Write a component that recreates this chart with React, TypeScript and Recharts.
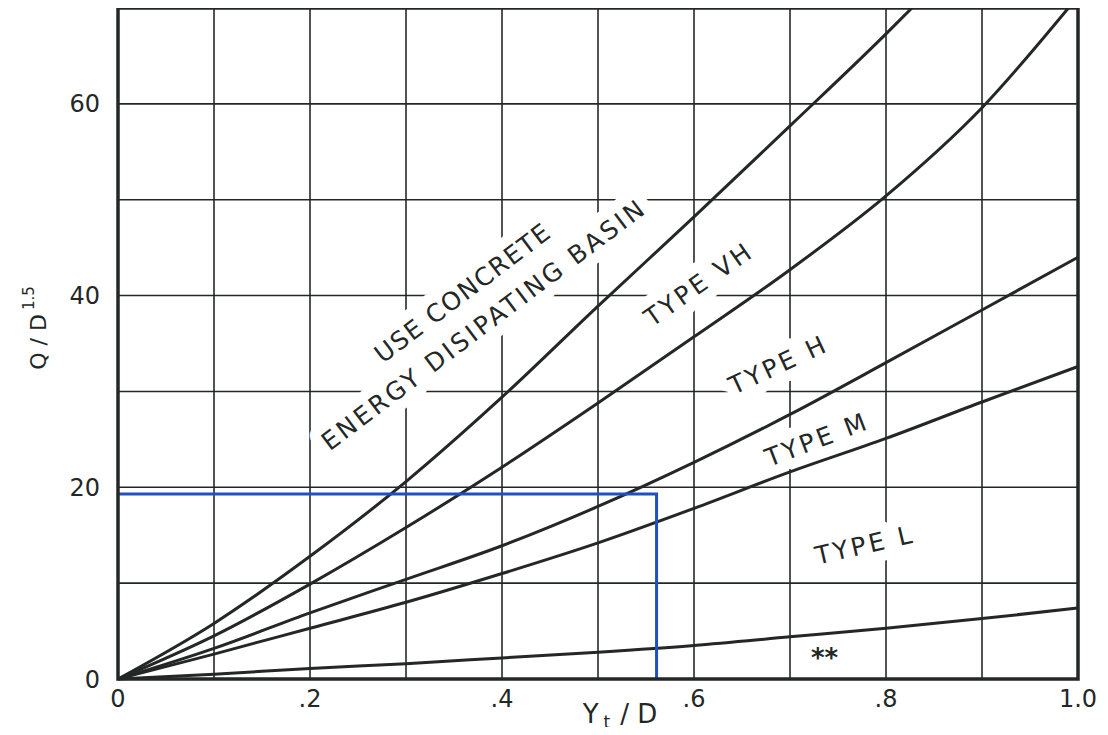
import { CartesianGrid, Label, Line, LineChart, ReferenceArea, ReferenceDot, XAxis, YAxis } from "recharts";

// grid every 0.1 on Yt/D and every 10 on Q/D^1.5
const gridX = [0, 0.1, 0.2, 0.3, 0.4, 0.5, 0.6, 0.7, 0.8, 0.9, 1.0];
const gridY = [0, 10, 20, 30, 40, 50, 60, 70];
const xTicks = [0, 0.2, 0.4, 0.6, 0.8, 1.0];
const yTicks = [0, 20, 40, 60];

// boundary curves
const basinX = [0, 0.1, 0.2, 0.3, 0.4, 0.5, 0.6, 0.7, 0.8, 0.827];
const basinY = [0, 5.8, 12.8, 20.6, 29.4, 38.9, 48.2, 57.7, 67.3, 70];
const vhX = [0, 0.1, 0.2, 0.3, 0.4, 0.5, 0.6, 0.7, 0.8, 0.9, 0.99];
const vhY = [0, 4.5, 9.9, 15.8, 22.1, 28.8, 35.7, 42.7, 50.4, 59.6, 70];
const curveX = [0, 0.1, 0.2, 0.3, 0.4, 0.5, 0.6, 0.7, 0.8, 0.9, 1.0];
const typeHY = [0, 3.2, 6.9, 10.4, 13.9, 18.0, 22.6, 27.6, 33.0, 38.5, 44.0];
const typeMY = [0, 2.6, 5.3, 8.0, 11.0, 14.2, 17.8, 21.6, 25.1, 28.9, 32.6];
const typeLY = [0, 0.5, 1.1, 1.6, 2.2, 2.8, 3.5, 4.4, 5.3, 6.3, 7.4];

// blue design lookup
const designX = [0, 0.561, 0.561];
const designY = [19.3, 19.3, 0];

// region labels
const regionNames = ["USE CONCRETE", "ENERGY DISIPATING BASIN", "TYPE   VH", "TYPE   H", "TYPE   M", "TYPE   L"];
const regionAtX = [0.359, 0.381, 0.605, 0.688, 0.728, 0.778];
const regionAtY = [40.3, 37.0, 41.2, 32.8, 25.0, 14.0];
const regionAngle = [-37, -37, -35, -25, -21, -13];
const regionSpacing = [1.5, 2.9, 3, 3, 3, 3];

const toPoints = (xs: number[], ys: number[]) => xs.map((x, i) => ({ x, y: ys[i] }));

const ink = "#232826";
const font = "'DejaVu Sans', sans-serif";

function RegionText({ cx, cy, text, angle, spacing }: { cx?: number; cy?: number; text: string; angle: number; spacing: number }) {
  if (cx == null || cy == null) return null;
  const common = {
    x: cx,
    y: cy,
    dy: "0.35em",
    textAnchor: "middle" as const,
    transform: `rotate(${angle} ${cx} ${cy})`,
    fontFamily: font,
    fontSize: 25,
    letterSpacing: spacing,
  };
  return (
    <g>
      <text {...common} fill="#fff" stroke="#fff" strokeWidth={22} strokeLinejoin="round">
        {text}
      </text>
      <text {...common} fill={ink}>
        {text}
      </text>
    </g>
  );
}

function XTitle({ viewBox }: any) {
  const cx = viewBox.x + viewBox.width / 2 + 22;
  const y = viewBox.y + 44;
  return (
    <text x={cx} y={y} textAnchor="middle" fontFamily={font} fontSize={26} fill={ink}>
      Y<tspan fontSize={17} dx={5} dy={5}>t</tspan>
      <tspan dx={10} dy={-5}>/ D</tspan>
    </text>
  );
}

function YTitle() {
  const x = 46;
  const y = 328;
  return (
    <text x={x} y={y} textAnchor="middle" transform={`rotate(-90 ${x} ${y})`} fontFamily={font} fontSize={22} fill={ink}>
      Q / D<tspan fontSize={15} dx={4} dy={-12}>1.5</tspan>
    </text>
  );
}

export default function App() {
  return (
    <div style={{ position: "relative", margin: -8, width: 1108, height: 735, background: "#fff" }}>
      <div style={{ position: "absolute", top: 0, left: 0, width: 1108, height: 2, background: "#1a1ab0" }} />
      <LineChart width={1108} height={735} margin={{ top: 8, right: 30, bottom: 0, left: 0 }}>
        <CartesianGrid stroke={ink} strokeWidth={1.6} horizontalValues={gridY} verticalValues={gridX} />
        <XAxis
          dataKey="x"
          type="number"
          domain={[0, 1]}
          ticks={xTicks}
          tickFormatter={(v: number) => (v === 0 ? "0" : v === 1 ? "1.0" : String(v).replace(/^0/, ""))}
          axisLine={false}
          tickLine={false}
          tickSize={0}
          tickMargin={11}
          height={56}
          tick={{ fill: ink, fontSize: 24, fontFamily: font }}
        >
          <Label content={XTitle} />
        </XAxis>
        <YAxis
          dataKey="y"
          type="number"
          domain={[0, 70]}
          ticks={yTicks}
          axisLine={false}
          tickLine={false}
          tickSize={0}
          tickMargin={18}
          width={118}
          tick={{ fill: ink, fontSize: 24, fontFamily: font }}
        >
          <Label content={YTitle} />
        </YAxis>
        {regionNames.map((text, i) => (
          <ReferenceDot
            key={text}
            x={regionAtX[i]}
            y={regionAtY[i]}
            r={0}
            zIndex={50}
            shape={(p: any) => <RegionText cx={p.cx} cy={p.cy} text={text} angle={regionAngle[i]} spacing={regionSpacing[i]} />}
          />
        ))}
        <Line data={toPoints(basinX, basinY)} dataKey="y" type="monotone" stroke={ink} strokeWidth={3} dot={false} isAnimationActive={false} />
        <Line data={toPoints(vhX, vhY)} dataKey="y" type="monotone" stroke={ink} strokeWidth={3} dot={false} isAnimationActive={false} />
        <Line data={toPoints(curveX, typeHY)} dataKey="y" type="monotone" stroke={ink} strokeWidth={3} dot={false} isAnimationActive={false} />
        <Line data={toPoints(curveX, typeMY)} dataKey="y" type="monotone" stroke={ink} strokeWidth={3} dot={false} isAnimationActive={false} />
        <Line data={toPoints(curveX, typeLY)} dataKey="y" type="monotone" stroke={ink} strokeWidth={3} dot={false} isAnimationActive={false} />
        <Line data={toPoints(designX, designY)} dataKey="y" type="linear" stroke="#1f50c0" strokeWidth={3} dot={false} isAnimationActive={false} />
        <ReferenceArea x1={0} x2={1} y1={0} y2={70} fill="none" stroke={ink} strokeWidth={3.5} zIndex={900} />
        <ReferenceDot
          x={0.736}
          y={2.2}
          r={0}
          shape={(p: any) => (
            <text x={p.cx} y={p.cy} dy="0.35em" textAnchor="middle" fontFamily={font} fontSize={26} fontWeight="bold" fill={ink}>
              **
            </text>
          )}
        />
      </LineChart>
    </div>
  );
}
